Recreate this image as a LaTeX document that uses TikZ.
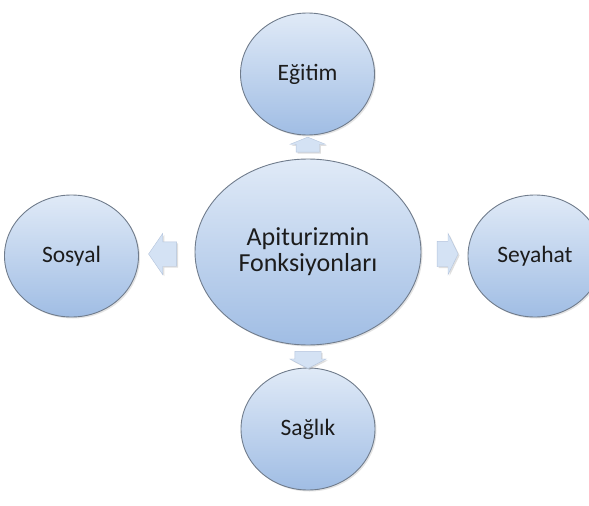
\documentclass[tikz,border=0pt]{standalone}
\usepackage{fontspec}
\setmainfont{Carlito}
\usetikzlibrary{shapes.geometric,shapes.arrows,shadows,calc}

\definecolor{daireust}{RGB}{224,234,247}
\definecolor{dairealt}{RGB}{160,189,228}
\definecolor{dairekenar}{RGB}{112,124,140}
\definecolor{okdolgu}{RGB}{212,226,244}
\definecolor{okkenar}{RGB}{180,196,220}
\definecolor{yazi}{RGB}{28,28,28}

\tikzset{
  daire/.style={ellipse, draw=dairekenar, line width=0.9pt,
    top color=daireust, bottom color=dairealt,
    minimum width=134pt, minimum height=122pt, inner sep=0pt,
    text=yazi, font=\fontsize{23.5}{26}\selectfont,
    drop shadow={opacity=0.22, shadow xshift=1.5pt, shadow yshift=-1.5pt}},
  merkezdaire/.style={daire, minimum width=226pt, minimum height=186pt,
    font=\fontsize{26}{26}\selectfont, align=center},
  blokok/.style={single arrow, draw=okkenar, line width=0.4pt, fill=okdolgu,
    inner xsep=0pt, drop shadow={opacity=0.25, shadow xshift=1.5pt, shadow yshift=-1.5pt}}
}

\begin{document}
\begin{tikzpicture}[x=1pt,y=-1pt]
\useasboundingbox (0,0) rectangle (589,506);

\node[merkezdaire] (merkez) at (308,252) {Apiturizmin\\Fonksiyonları};
\node[daire] (egitim) at (307.5,74) {Eğitim};
\node[daire] (saglik) at (308,429) {Sağlık};
\node[daire] (sosyal) at (71.5,256) {Sosyal};
\node[daire] (seyahat) at (535,256) {Seyahat};

% bloklu oklar
\node[blokok, rotate=90, minimum height=15pt, inner ysep=11.5pt,
  single arrow head extend=6pt, single arrow tip angle=136]
  (okust) at ($(egitim.south)!0.5!(merkez.north)$) {};
\node[blokok, rotate=-90, minimum height=17pt, inner ysep=13pt,
  single arrow head extend=5pt, single arrow tip angle=125]
  (okalt) at ($(merkez.south)!0.5!(saglik.north)$) {};
\node[blokok, rotate=180, minimum height=28pt, inner ysep=12pt,
  single arrow head extend=8.5pt, single arrow tip angle=111]
  (oksol) at ($(sosyal.east)!0.5!(merkez.west)$) {};
\node[blokok, minimum height=21pt, inner ysep=12.5pt,
  single arrow head extend=8pt, single arrow tip angle=128]
  (oksag) at ($(merkez.east)!0.5!(seyahat.west)$) {};
\end{tikzpicture}
\end{document}
